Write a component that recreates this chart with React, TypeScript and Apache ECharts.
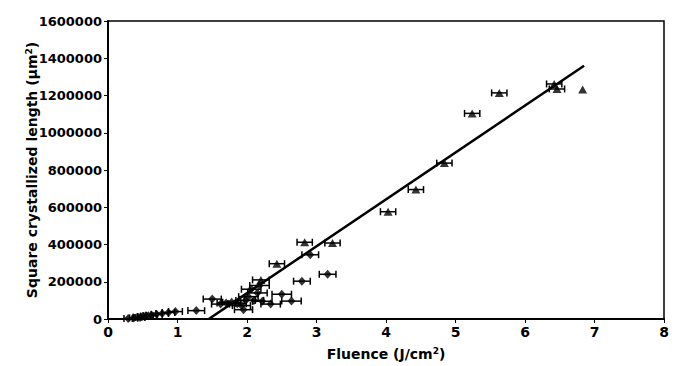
import React, { useEffect, useRef } from "react";
import * as echarts from "echarts";

// Diamond series (with horizontal error bars)
const diamondX = [0.29, 0.37, 0.42, 0.46, 0.5, 0.54, 0.58, 0.63, 0.7, 0.78, 0.87, 0.97, 1.27, 1.5, 1.62, 1.7, 1.78, 1.86, 1.92, 1.95, 1.98, 2.02, 2.06, 2.1, 2.15, 2.18, 2.22, 2.34, 2.5, 2.64, 2.79, 2.91, 3.16];
const diamondY = [3000, 6000, 10000, 8000, 14000, 16000, 18000, 20000, 26000, 30000, 35000, 40000, 45000, 107000, 80000, 86000, 90000, 82000, 72000, 50000, 100000, 120000, 160000, 100000, 140000, 180000, 95000, 80000, 133000, 96000, 203000, 345000, 240000];
const diamondErr = [0.06, 0.06, 0.06, 0.07, 0.07, 0.07, 0.07, 0.08, 0.08, 0.09, 0.09, 0.1, 0.12, 0.13, 0.13, 0.13, 0.13, 0.13, 0.13, 0.13, 0.14, 0.14, 0.14, 0.14, 0.14, 0.14, 0.14, 0.14, 0.14, 0.14, 0.12, 0.12, 0.12];

// Triangle series (with horizontal error bars)
const triangleX = [2.2, 2.43, 2.83, 3.23, 4.03, 4.43, 4.84, 5.24, 5.63, 6.42, 6.46];
const triangleY = [210000, 297000, 412000, 408000, 576000, 695000, 837000, 1104000, 1214000, 1262000, 1235000];
const triangleErr = [0.12, 0.11, 0.11, 0.11, 0.11, 0.11, 0.11, 0.11, 0.11, 0.11, 0.11];

// Single triangle without error bar
const loneTriangleX = [6.83];
const loneTriangleY = [1232000];

// Linear fit line
const fitX = [1.45, 6.85];
const fitY = [0, 1360000];

const xTicks = [0, 8, 1];
const yTicks = [0, 1600000, 200000];

const FONT = "'DejaVu Sans', Arial, sans-serif";

export default function App() {
  const ref = useRef<HTMLDivElement>(null);
  useEffect(() => {
    if (!ref.current) return;
    const chart = echarts.init(ref.current, null, { renderer: "svg" });
    const errData = [
      ...diamondX.map((x, i) => [x, diamondY[i], diamondErr[i]]),
      ...triangleX.map((x, i) => [x, triangleY[i], triangleErr[i]]),
    ];
    const errorBarSeries = {
      type: "custom",
      z: 3,
      encode: { x: 0, y: 1 },
      data: errData,
      renderItem: (params: any, api: any) => {
        const x = api.value(0);
        const y = api.value(1);
        const e = api.value(2);
        const lo = api.coord([x - e, y]);
        const hi = api.coord([x + e, y]);
        const cap = 3.5;
        const st = { stroke: "#000", lineWidth: 1.5 };
        return {
          type: "group",
          children: [
            { type: "line", shape: { x1: lo[0], y1: lo[1], x2: hi[0], y2: hi[1] }, style: st },
            { type: "line", shape: { x1: lo[0], y1: lo[1] - cap, x2: lo[0], y2: lo[1] + cap }, style: st },
            { type: "line", shape: { x1: hi[0], y1: hi[1] - cap, x2: hi[0], y2: hi[1] + cap }, style: st },
          ],
        };
      },
    };
    const supStyle = { fontSize: 9, fontWeight: "bold", fontFamily: FONT, color: "#000", verticalAlign: "top", padding: [0, 0, 7, 0] };
    chart.setOption({
      animation: false,
      backgroundColor: "#fff",
      grid: {
        left: 108,
        right: 16,
        top: 21,
        bottom: 45,
        show: true,
        borderColor: "#000",
        borderWidth: 1.5,
      },
      xAxis: {
        type: "value",
        min: xTicks[0],
        max: xTicks[1],
        interval: xTicks[2],
        name: "Fluence (J/cm{sup|2})",
        nameLocation: "middle",
        nameGap: 27,
        nameMoveOverlap: false,
        nameTextStyle: {
          fontFamily: FONT,
          fontWeight: "bold",
          fontSize: 14,
          color: "#000",
          rich: { sup: supStyle },
        },
        axisLine: { show: true, lineStyle: { color: "#000", width: 2 } },
        axisTick: { show: true, inside: false, length: 4, lineStyle: { color: "#000", width: 1 } },
        axisLabel: { fontFamily: FONT, fontWeight: "bold", fontSize: 14, color: "#000", margin: 6 },
        splitLine: { show: false },
      },
      yAxis: {
        type: "value",
        min: yTicks[0],
        max: yTicks[1],
        interval: yTicks[2],
        name: "Square crystallized length (μm{sup|2})",
        nameLocation: "middle",
        nameGap: 68,
        nameMoveOverlap: false,
        nameTextStyle: {
          fontFamily: FONT,
          fontWeight: "bold",
          fontSize: 14,
          color: "#000",
          rich: { sup: supStyle },
        },
        axisLine: { show: true, lineStyle: { color: "#000", width: 2 } },
        axisTick: { show: true, inside: false, length: 4, lineStyle: { color: "#000", width: 1 } },
        axisLabel: {
          fontFamily: FONT,
          fontWeight: "bold",
          fontSize: 13,
          color: "#000",
          margin: 6,
          formatter: (v: number) => String(v),
        },
        splitLine: { show: false },
      },
      series: [
        errorBarSeries,
        {
          type: "line",
          z: 2,
          data: fitX.map((x, i) => [x, fitY[i]]),
          symbol: "none",
          lineStyle: { color: "#000", width: 2.5 },
        },
        {
          type: "scatter",
          z: 4,
          symbol: "diamond",
          symbolSize: [8, 9],
          itemStyle: { color: "#000" },
          data: diamondX.map((x, i) => [x, diamondY[i]]),
        },
        {
          type: "scatter",
          z: 4,
          symbol: "triangle",
          symbolSize: [9, 8],
          itemStyle: { color: "#000" },
          data: [
            ...triangleX.map((x, i) => [x, triangleY[i]]),
            ...loneTriangleX.map((x, i) => [x, loneTriangleY[i]]),
          ],
        },
      ],
    });
    return () => chart.dispose();
  }, []);
  return <div ref={ref} style={{ width: 680, height: 366, position: "absolute", left: 0, top: 0 }} />;
}
